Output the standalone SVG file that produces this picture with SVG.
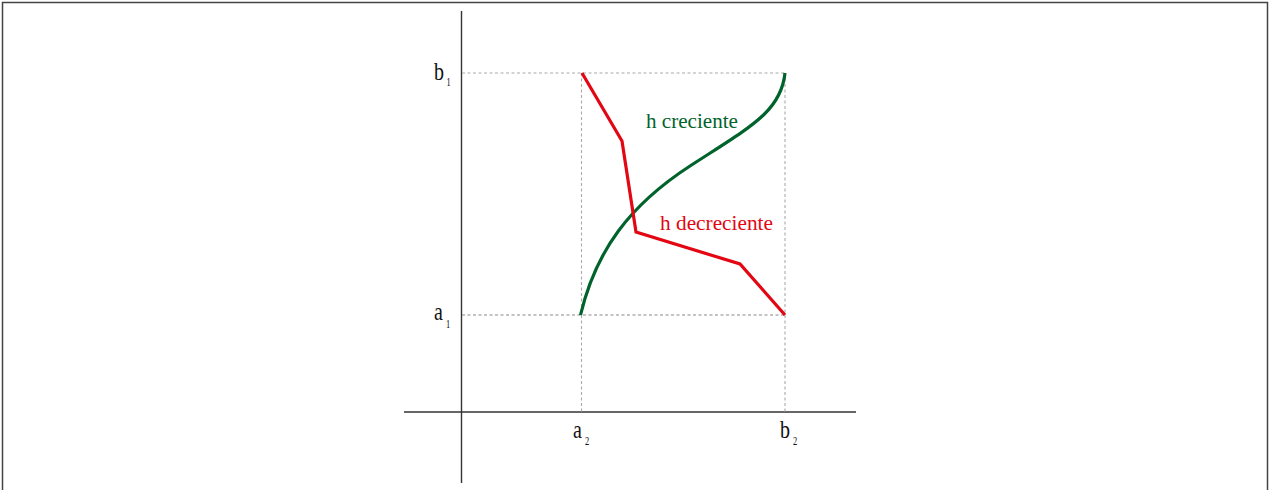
<svg xmlns="http://www.w3.org/2000/svg" width="1270" height="490" viewBox="0 0 1270 490">
<style>
.axis{stroke:#333;stroke-width:1.4;fill:none}
.dot{stroke:#aaa;stroke-width:1.1;stroke-dasharray:3,2.5;fill:none}
.dotd{stroke:#888;stroke-width:1.1;stroke-dasharray:3,2.5;fill:none}
.lbl{font-family:"Liberation Serif",serif;font-size:25px;fill:#111}
.sub{font-family:"Liberation Serif",serif;font-size:12px;fill:#111}
.g{font-family:"Liberation Serif",serif;font-size:21px;fill:#00632c}
.r{font-family:"Liberation Serif",serif;font-size:21px;fill:#e30613}
</style>
<rect x="2.5" y="2.5" width="1265" height="500" fill="#fff" stroke="#444" stroke-width="1.5"/>
<g id="axes">
<line class="axis" x1="461.5" y1="11" x2="461.5" y2="483"/>
<line class="axis" x1="404" y1="412" x2="856" y2="412"/>
</g>
<g id="guides">
<line class="dot" x1="462" y1="73" x2="785" y2="73"/>
<line class="dotd" x1="462" y1="315" x2="785" y2="315"/>
<line class="dot" x1="581.5" y1="73" x2="581.5" y2="412"/>
<line class="dot" x1="785" y1="73" x2="785" y2="412"/>
</g>
<g id="connectors">
<path id="h-creciente" d="M580.5,315 C596,250 630,205 690,166 S781,112 785,73" fill="none" stroke="#00632c" stroke-width="3.2"/>
<polyline id="h-decreciente" points="582,73 622,141 636,232 740,264 785,315" fill="none" stroke="#e30613" stroke-width="3.2" stroke-linejoin="miter"/>
</g>
<g id="labels">
<text class="lbl" transform="translate(434,80) scale(0.8,1)">b</text><text class="sub" transform="translate(446.5,86) scale(0.7,1)">1</text>
<text class="lbl" transform="translate(434,320) scale(0.8,1)">a</text><text class="sub" transform="translate(446,328) scale(0.7,1)">1</text>
<text class="lbl" transform="translate(573,438) scale(0.8,1)">a</text><text class="sub" transform="translate(585,445) scale(0.7,1)">2</text>
<text class="lbl" transform="translate(780,438) scale(0.8,1)">b</text><text class="sub" transform="translate(793,445) scale(0.7,1)">2</text>
<text class="g" x="646" y="128" textLength="92" lengthAdjust="spacingAndGlyphs">h  creciente</text>
<text class="r" x="660" y="230" textLength="113" lengthAdjust="spacingAndGlyphs">h  decreciente</text>
</g>
</svg>
